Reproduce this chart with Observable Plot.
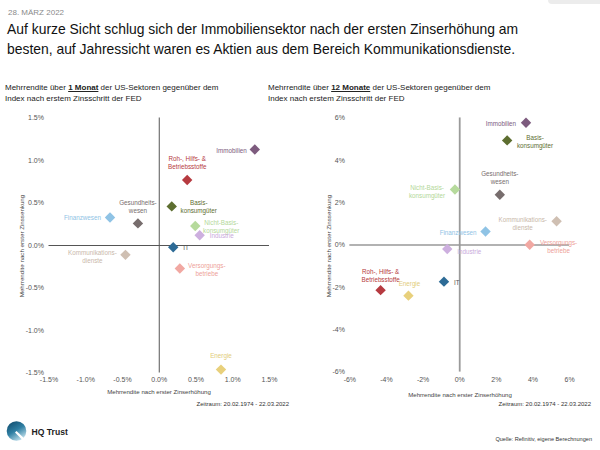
<!DOCTYPE html>
<html><head><meta charset="utf-8">
<script src="https://cdn.jsdelivr.net/npm/d3@7"></script>
<script src="https://cdn.jsdelivr.net/npm/@observablehq/plot@0.6"></script>
<style>
html,body{margin:0;padding:0;background:#fff;}
body{width:600px;height:450px;position:relative;overflow:hidden;font-family:"Liberation Sans",Arial,sans-serif;}
.abs{position:absolute;white-space:nowrap;}
#date{left:8px;top:8px;font-size:8px;line-height:10px;color:#8a8a8a;}
#title{left:7px;top:20px;font-size:13.9px;line-height:19.5px;color:#111;}
.sub{top:81.5px;font-size:8px;line-height:11.7px;color:#222;}
.sub b{text-decoration:underline;}
.xt{font-size:6.1px;color:#444;transform:translate(-50%,-50%);}
.yt{font-size:6.2px;color:#444;transform:translate(-50%,-50%) rotate(-90deg);}
.zr{font-size:6px;color:#333;transform:translate(-100%,-50%);}
#quelle{left:592px;top:438.7px;font-size:5.6px;color:#333;transform:translate(-100%,-50%);}
#topbar{left:548px;top:-4px;width:60px;height:8px;border-radius:4px;background:#ececec;}
.chart{position:absolute;top:100px;}
</style>
</head><body>
<div id="topbar" class="abs"></div>
<div id="date" class="abs">28. MÄRZ 2022</div>
<div id="title" class="abs">Auf kurze Sicht schlug sich der Immobiliensektor nach der ersten Zinserhöhung am<br>besten, auf Jahressicht waren es Aktien aus dem Bereich Kommunikationsdienste.</div>
<div class="abs sub" style="left:5px">Mehrrendite über <b>1 Monat</b> der US-Sektoren gegenüber dem<br>Index nach erstem Zinsschritt der FED</div>
<div class="abs sub" style="left:268px">Mehrrendite über <b>12 Monate</b> der US-Sektoren gegenüber dem<br>Index nach erstem Zinsschritt der FED</div>
<div id="c1" class="chart" style="left:0px"></div>
<div id="c2" class="chart" style="left:301px"></div>
<div class="abs xt" style="left:159px;top:391px">Mehrrendite nach erster Zinserhöhung</div>
<div class="abs xt" style="left:460px;top:393.5px">Mehrrendite nach erster Zinserhöhung</div>
<div class="abs yt" style="left:21px;top:246px">Mehrrendite nach erster Zinssenkung</div>
<div class="abs yt" style="left:328px;top:246px">Mehrrendite nach erster Zinssenkung</div>
<div class="abs zr" style="left:289px;top:404px">Zeitraum: 20.02.1974 - 22.03.2022</div>
<div class="abs zr" style="left:591px;top:404px">Zeitraum: 20.02.1974 - 22.03.2022</div>
<div id="quelle" class="abs">Quelle: Refinitiv, eigene Berechnungen</div>
<svg class="abs" style="left:5px;top:420px" width="24" height="24" viewBox="0 0 24 24">
  <defs><linearGradient id="lg" x1="0" y1="0" x2="0.6" y2="1">
    <stop offset="0" stop-color="#0d4566"/><stop offset="0.55" stop-color="#2f7fa3"/><stop offset="1" stop-color="#b9dbe8"/></linearGradient></defs>
  <circle cx="11.5" cy="11" r="9.8" fill="url(#lg)"/>
  <path d="M11.5 11 L21.5 20.5 L19.5 22 L10 12.5 Z" fill="#fff"/>
</svg>
<div class="abs" style="left:31.5px;top:426.5px;font-size:8.6px;font-weight:bold;color:#1d1d1d;">HQ Trust</div>
<script>
// ---- data ----
const sectors = ["Immobilien","Roh-, Hilfs- & Betriebsstoffe","Basiskonsumgüter","Gesundheitswesen","Finanzwesen","Nicht-Basiskonsumgüter","Industrie","IT","Kommunikationsdienste","Versorgungsbetriebe","Energie"];
const sectorLabels = ["Immobilien","Roh-, Hilfs- &\nBetriebsstoffe","Basis-\nkonsumgüter","Gesundheits-\nwesen","Finanzwesen","Nicht-Basis-\nkonsumgüter","Industrie","IT","Kommunikations-\ndienste","Versorgungs-\nbetriebe","Energie"];
const month1X = [1.30, 0.38, 0.17, -0.29, -0.67, 0.49, 0.55, 0.19, -0.46, 0.28, 0.84];
const month1Y = [1.13, 0.77, 0.46, 0.26, 0.33, 0.23, 0.12, -0.02, -0.11, -0.27, -1.46];
const month12X = [3.62, -4.32, 2.59, 2.19, 1.41, -0.26, -0.68, -0.86, 5.29, 3.82, -2.80];
const month12Y = [5.77, -2.13, 4.94, 2.37, 0.64, 2.62, -0.19, -1.73, 1.12, 0.01, -2.39];
const ticks1 = [-1.5, -1.0, -0.5, 0, 0.5, 1.0, 1.5];
const ticks12 = [-6, -4, -2, 0, 2, 4, 6];

// ---- styles ----
const sectorColors = ["#7d5b7e","#b63a40","#5d6e30","#776d6d","#8fc3e5","#b6da9c","#cdafdf","#2d6b96","#cfbfb2","#f1a8a2","#e8d07c"];
const labelColors  = ["#7d5b7e","#b63a40","#5d6e30","#776d6d","#8fc3e5","#b3d899","#c9a9db","#555555","#c9b8aa","#ee9f99","#e2cc7a"];
// label placement: [textAnchor, dx, dy]
const place1 = [["end",-8,0.5],["middle",0,-18],["middle",27,0],["middle",0,-17],["end",-9,0],["middle",26,0.5],["start",10,0.5],["start",10,0],["middle",-33,1.5],["middle",27,1],["middle",0,-14]];
const place12 = [["end",-10,1],["middle",0,-15],["middle",28,1.5],["middle",0,-17],["end",-9,1],["middle",-28,2],["start",10,2],["start",10,1],["middle",-34,2],["middle",29,2],["middle",1,-12]];

function makeChart(xs, ys, ticks, fmt, place, vStroke, vWidth, hStroke, hWidth) {
  const rows = sectors.map((s, i) => ({sector: s, label: sectorLabels[i], x: xs[i], y: ys[i], color: sectorColors[i], lcolor: labelColors[i]}));
  const lim = d3.max(ticks);
  const labels = rows.map((d, i) => Plot.text([d], {
    x: "x", y: "y", text: "label", fill: d.lcolor, fontSize: 6.3, lineHeight: 1.28,
    textAnchor: place[i][0], dx: place[i][1], dy: place[i][2]
  }));
  return Plot.plot({
    width: 300, height: 300,
    marginTop: 17.5, marginBottom: 27.5, marginLeft: 48.5, marginRight: 31,
    style: {fontFamily: "Liberation Sans, Arial, sans-serif", fontSize: "7px", color: "#555", background: "transparent", overflow: "visible"},
    x: {domain: [-lim, lim]},
    y: {domain: [-lim, lim]},
    color: {type: "identity"},
    marks: [
      Plot.axisX({ticks, tickFormat: fmt, tickSize: 0, tickPadding: 4.5, label: null, fontSize: 7}),
      Plot.axisY({ticks, tickFormat: fmt, tickSize: 0, tickPadding: 5, label: null, fontSize: 7}),
      Plot.ruleY([0], {stroke: hStroke, strokeWidth: hWidth}),
      Plot.ruleX([0], {stroke: vStroke, strokeWidth: vWidth}),
      Plot.dot(rows, {x: "x", y: "y", symbol: "diamond2", r: 4.7, fill: "color", stroke: "none"}),
      ...labels
    ]
  });
}

const fmt1 = d => (d < 0 ? "-" : "") + Math.abs(d).toFixed(1) + "%";
const fmt12 = d => (d < 0 ? "-" : "") + Math.abs(d) + "%";
document.getElementById("c1").append(makeChart(month1X, month1Y, ticks1, fmt1, place1, "#555", 1, "#555", 1));
document.getElementById("c2").append(makeChart(month12X, month12Y, ticks12, fmt12, place12, "#9a9a9a", 1.8, "#666", 1.2));
</script>
</body></html>
